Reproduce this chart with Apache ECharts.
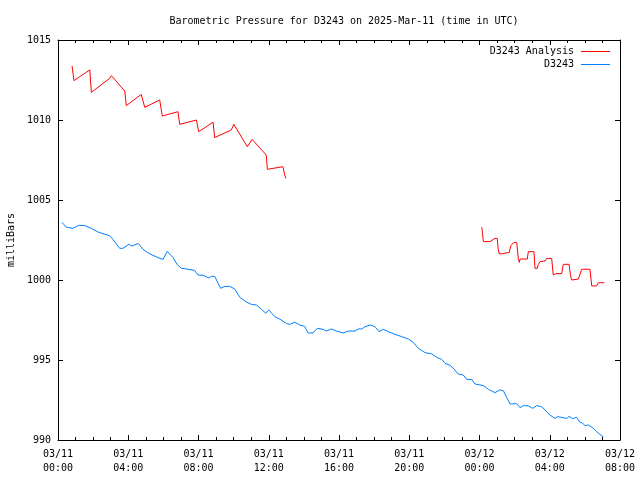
<!DOCTYPE html>
<html>
<head>
<meta charset="utf-8">
<script src="https://cdn.jsdelivr.net/npm/echarts@6/dist/echarts.min.js"></script>
<style>html,body{margin:0;padding:0;background:#fff}#c{width:640px;height:480px}</style>
</head>
<body>
<div id="c"></div>
<script>
// Hours since 2025-03-11 00:00 UTC
const analysisHours1 = [0.80,0.91,1.81,1.90,2.94,3.04,3.80,3.89,4.74,4.94,5.79,5.94,6.83,6.93,7.88,8.01,8.83,8.92,9.87,10.01,10.78,11.05,11.86,11.92,12.81,12.91,12.97];
const analysisValues1 = [1013.38,1012.46,1013.13,1011.73,1012.60,1012.77,1011.81,1010.90,1011.60,1010.79,1011.25,1010.25,1010.52,1009.73,1010.00,1009.27,1009.86,1008.90,1009.38,1009.73,1008.33,1008.79,1007.81,1006.92,1007.08,1006.56,1006.35];
const analysisHours2 = [24.13,24.17,24.22,24.60,24.69,24.88,25.01,25.07,25.13,25.26,25.32,25.70,25.78,25.89,25.97,26.12,26.21,26.27,26.31,26.72,26.78,27.10,27.16,27.29,27.35,27.45,27.73,27.83,28.11,28.20,28.30,28.36,28.68,28.77,29.10,29.18,29.25,29.63,29.82,30.29,30.39,30.67,30.76,31.11];
const analysisValues2 = [1003.29,1002.90,1002.40,1002.40,1002.50,1002.60,1002.60,1001.88,1001.63,1001.63,1001.73,1001.73,1002.15,1002.15,1002.35,1002.35,1001.35,1001.10,1001.31,1001.31,1001.77,1001.77,1000.73,1000.73,1000.98,1001.15,1001.19,1001.35,1001.35,1000.31,1000.21,1000.40,1000.40,1000.98,1000.98,1000.30,1000.00,1000.06,1000.67,1000.67,999.63,999.63,999.83,999.83];
const obsHours = [0.23,0.47,0.85,1.18,1.52,1.90,2.28,2.66,2.94,3.13,3.51,3.70,4.03,4.21,4.56,4.84,5.08,5.41,5.69,5.98,6.22,6.55,6.78,7.02,7.31,7.78,7.97,8.30,8.58,8.73,8.92,9.26,9.49,9.78,10.06,10.35,10.72,11.01,11.29,11.58,11.83,12.00,12.34,12.62,13.00,13.19,13.48,13.76,14.05,14.24,14.52,14.76,15.09,15.28,15.56,15.85,16.23,16.53,16.91,17.10,17.29,17.48,17.77,18.05,18.28,18.52,18.81,19.19,19.57,19.95,20.23,20.52,20.90,21.28,21.56,21.85,22.04,22.32,22.55,22.79,23.08,23.27,23.56,23.74,24.22,24.50,24.88,25.17,25.36,25.55,25.74,26.12,26.31,26.49,26.78,27.03,27.26,27.54,27.79,28.01,28.30,28.45,28.97,29.11,29.31,29.53,29.68,29.88,30.01,30.19,30.48,30.67,30.86,31.05];
const obsValues = [1003.60,1003.30,1003.23,1003.42,1003.40,1003.23,1003.00,1002.86,1002.77,1002.54,1001.98,1001.98,1002.23,1002.12,1002.29,1001.92,1001.73,1001.54,1001.40,1001.29,1001.79,1001.40,1000.98,1000.73,1000.69,1000.60,1000.31,1000.29,1000.12,1000.23,1000.23,999.48,999.60,999.60,999.44,998.92,998.63,998.48,998.44,998.17,997.92,998.13,997.71,997.56,997.29,997.23,997.36,997.19,997.10,996.69,996.69,996.98,996.92,996.81,996.94,996.81,996.69,996.81,996.81,996.94,996.94,997.08,997.19,997.08,996.77,996.92,996.77,996.60,996.46,996.31,996.10,995.73,995.46,995.38,995.17,995.04,994.79,994.67,994.44,994.12,994.06,993.79,993.79,993.50,993.40,993.17,992.96,993.13,993.08,992.65,992.25,992.27,992.02,992.15,992.13,991.98,992.15,992.08,991.81,991.56,991.35,991.46,991.35,991.48,991.33,991.42,991.15,991.04,990.90,990.94,990.73,990.52,990.35,990.19];
const xTickDates = ['03/11','03/11','03/11','03/11','03/11','03/11','03/12','03/12','03/12'];
const xTickTimes = ['00:00','04:00','08:00','12:00','16:00','20:00','00:00','04:00','08:00'];
const yTicks = [990, 995, 1000, 1005, 1010, 1015];

const zip = (a, b) => a.map((v, i) => [v, b[i]]);
const analysisData = zip(analysisHours1, analysisValues1).concat([[18, null]], zip(analysisHours2, analysisValues2));
const obsData = zip(obsHours, obsValues);

const FONT = 'DejaVu Sans Mono';
const chart = echarts.init(document.getElementById('c'), null, {renderer: 'canvas'});
const tickCommon = {show: true, inside: true, length: 5, lineStyle: {color: '#000', width: 1}};
const minorCommon = {show: true, splitNumber: 4, length: 3, lineStyle: {color: '#000', width: 1}};
const axisLineCommon = {show: true, onZero: false, lineStyle: {color: '#000', width: 1}};
chart.setOption({
  animation: false,
  backgroundColor: '#fff',
  title: {
    text: 'Barometric Pressure for D3243 on 2025-Mar-11 (time in UTC)',
    left: 339, top: 11, textAlign: 'center',
    textStyle: {fontFamily: FONT, fontSize: 10, fontWeight: 'normal', color: '#000'}
  },
  legend: {
    orient: 'vertical', right: 25, top: 40, align: 'right', itemGap: 0,
    itemWidth: 29, itemHeight: 1, icon: 'rect',
    textStyle: {fontFamily: FONT, fontSize: 10, color: '#000', lineHeight: 13, padding: [0, 2, 0, 0]},
    data: ['D3243 Analysis', 'D3243']
  },
  grid: {left: 58, right: 20, top: 40, bottom: 40, containLabel: false, outerBoundsMode: 'none'},
  xAxis: [{
    type: 'value', min: 0, max: 32, interval: 4, position: 'bottom',
    axisLine: axisLineCommon, axisTick: tickCommon, minorTick: minorCommon,
    splitLine: {show: false},
    axisLabel: {
      fontFamily: FONT, fontSize: 10, color: '#000', margin: 7, lineHeight: 14,
      formatter: v => { const i = Math.round(v / 4); return xTickDates[i] + '\n' + xTickTimes[i]; }
    }
  }, {
    type: 'value', min: 0, max: 32, interval: 4, position: 'top',
    axisLine: axisLineCommon, axisTick: tickCommon, minorTick: minorCommon,
    splitLine: {show: false}, axisLabel: {show: false}
  }],
  yAxis: [{
    type: 'value', min: 990, max: 1015, interval: 5, position: 'left',
    name: 'milliBars', nameLocation: 'middle', nameGap: 41, nameRotate: 90,
    nameTextStyle: {fontFamily: FONT, fontSize: 10, color: '#000'},
    axisLine: axisLineCommon, axisTick: tickCommon, splitLine: {show: false},
    axisLabel: {fontFamily: FONT, fontSize: 10, color: '#000', margin: 7,
      formatter: v => String(yTicks[yTicks.indexOf(v)])}
  }, {
    type: 'value', min: 990, max: 1015, interval: 5, position: 'right',
    axisLine: axisLineCommon, axisTick: tickCommon, splitLine: {show: false},
    axisLabel: {show: false}
  }],
  series: [{
    name: 'D3243 Analysis', type: 'line', data: analysisData, connectNulls: false,
    symbol: 'none', color: '#ff0000', lineStyle: {color: '#ff0000', width: 1}
  }, {
    name: 'D3243', type: 'line', data: obsData,
    symbol: 'none', color: '#0080ff', lineStyle: {color: '#0080ff', width: 1}
  }]
});
</script>
</body>
</html>
